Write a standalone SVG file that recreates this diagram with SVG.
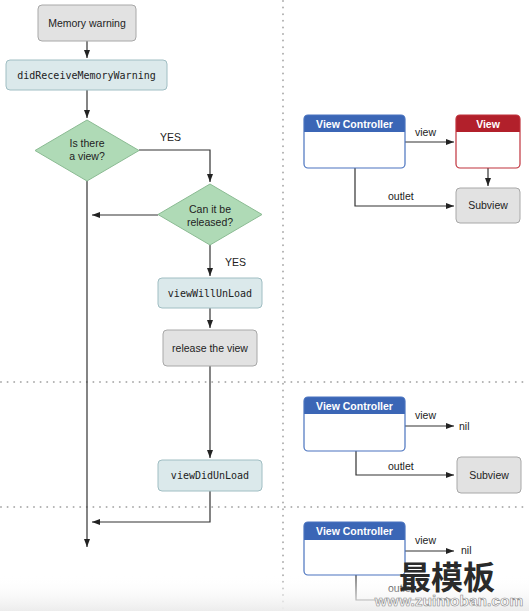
<svg xmlns="http://www.w3.org/2000/svg" width="529" height="611" viewBox="0 0 529 611">
<defs>
<marker id="arr" markerUnits="userSpaceOnUse" markerWidth="9" markerHeight="7" refX="8" refY="3" orient="auto">
<path d="M0,0 L8,3 L0,6 z" fill="#222"/>
</marker>
<linearGradient id="fade" x1="0" y1="0" x2="0" y2="1">
<stop offset="0" stop-color="#ffffff" stop-opacity="0"/>
<stop offset="1" stop-color="#ececec" stop-opacity="1"/>
</linearGradient>
<style>
.t{font-family:"Liberation Sans",Arial,sans-serif;font-size:10.5px;fill:#222;text-anchor:middle}
.tl{font-family:"Liberation Sans",Arial,sans-serif;font-size:10.5px;fill:#222}
.m{font-family:"DejaVu Sans Mono","Liberation Mono",monospace;font-size:10px;fill:#222;text-anchor:middle}
.h{font-family:"Liberation Sans",Arial,sans-serif;font-size:10.5px;font-weight:bold;fill:#fff;text-anchor:middle}
.grey{fill:#e2e2e2;stroke:#a8a8a8;stroke-width:1}
.blue{fill:#dbe9eb;stroke:#a0bec3;stroke-width:1}
.dia{fill:#afdab6;stroke:#8bbb93;stroke-width:1}
.ln{fill:none;stroke:#333;stroke-width:1.2}
.dot{stroke:#b0b0b0;stroke-width:2;stroke-dasharray:0 6.6;stroke-linecap:round;fill:none}
</style>
</defs>
<rect width="529" height="611" fill="#fff"/>
<g id="separators">
<line class="dot" x1="283" y1="1" x2="283" y2="611"/>
<line class="dot" x1="1" y1="382" x2="529" y2="382"/>
<line class="dot" x1="1" y1="507" x2="529" y2="507"/>
</g>
<g id="connectors">
<line class="ln" x1="87" y1="41" x2="87" y2="58" marker-end="url(#arr)"/>
<line class="ln" x1="87" y1="90" x2="87" y2="118" marker-end="url(#arr)"/>
<polyline class="ln" points="139,150 210,150 210,182" marker-end="url(#arr)"/>
<line class="ln" x1="87" y1="181" x2="87" y2="547" marker-end="url(#arr)"/>
<line class="ln" x1="158" y1="215" x2="92" y2="215" marker-end="url(#arr)"/>
<line class="ln" x1="210" y1="245" x2="210" y2="276" marker-end="url(#arr)"/>
<line class="ln" x1="210" y1="308" x2="210" y2="328" marker-end="url(#arr)"/>
<line class="ln" x1="210" y1="366" x2="210" y2="458" marker-end="url(#arr)"/>
<polyline class="ln" points="210,491 210,522 92,522" marker-end="url(#arr)"/>
<line class="ln" x1="405" y1="142" x2="454" y2="142" marker-end="url(#arr)"/>
<line class="ln" x1="488" y1="168" x2="488" y2="186" marker-end="url(#arr)"/>
<polyline class="ln" points="355,168 355,206 454,206" marker-end="url(#arr)"/>
<line class="ln" x1="405" y1="426" x2="454" y2="426" marker-end="url(#arr)"/>
<polyline class="ln" points="356,451 356,475 454,475" marker-end="url(#arr)"/>
<line class="ln" x1="405" y1="551" x2="454" y2="551" marker-end="url(#arr)"/>
<polyline class="ln" points="356,575 356,600 454,600" marker-end="url(#arr)"/>
<text class="tl" x="160" y="141">YES</text>
<text class="tl" x="225" y="266">YES</text>
<text class="tl" x="415" y="136">view</text>
<text class="tl" x="388" y="200">outlet</text>
<text class="tl" x="415" y="419">view</text>
<text class="tl" x="388" y="470">outlet</text>
<text class="tl" x="415" y="544">view</text>
<text class="tl" x="388" y="592">outlet</text>
</g>
<g id="memory-warning">
<rect class="grey" x="38" y="5" width="98" height="36" rx="4"/>
<text class="t" x="87" y="26.5">Memory warning</text>
</g>
<g id="did-receive">
<rect class="blue" x="6" y="60" width="161" height="30" rx="4"/>
<text class="m" x="86.5" y="79">didReceiveMemoryWarning</text>
</g>
<g id="is-there-view">
<polygon class="dia" points="87,120 139,150.5 87,181 35,150.5"/>
<text class="t" x="87" y="147">Is there</text>
<text class="t" x="87" y="160">a view?</text>
</g>
<g id="can-release">
<polygon class="dia" points="210,184 262,214.5 210,245 158,214.5"/>
<text class="t" x="210" y="213">Can it be</text>
<text class="t" x="210" y="226">released?</text>
</g>
<g id="view-will-unload">
<rect class="blue" x="158" y="278" width="104" height="30" rx="4"/>
<text class="m" x="210" y="296.5">viewWillUnLoad</text>
</g>
<g id="release-view">
<rect class="grey" x="163" y="330" width="94" height="36" rx="4"/>
<text class="t" x="210" y="351.5">release the view</text>
</g>
<g id="view-did-unload">
<rect class="blue" x="158" y="460" width="104" height="31" rx="4"/>
<text class="m" x="210" y="479">viewDidUnLoad</text>
</g>
<g id="vc1">
<path d="M308,115 H401 a4,4 0 0 1 4,4 V132 H304 V119 a4,4 0 0 1 4,-4 z" fill="#3b66b6"/>
<rect x="304" y="115" width="101" height="53" rx="4" fill="none" stroke="#4a73bf" stroke-width="1.2"/>
<text class="h" x="354.5" y="127.5">View Controller</text>
</g>
<g id="view1">
<path d="M460,115 H516 a4,4 0 0 1 4,4 V132 H456 V119 a4,4 0 0 1 4,-4 z" fill="#b2202b"/>
<rect x="456" y="115" width="64" height="53" rx="4" fill="none" stroke="#c0323c" stroke-width="1.2"/>
<text class="h" x="488" y="127.5">View</text>
</g>
<g id="subview1">
<rect class="grey" x="456" y="188" width="64" height="35" rx="4"/>
<text class="t" x="488" y="209">Subview</text>
</g>
<g id="vc2">
<path d="M308,397 H401 a4,4 0 0 1 4,4 V414 H304 V401 a4,4 0 0 1 4,-4 z" fill="#3b66b6"/>
<rect x="304" y="397" width="101" height="54" rx="4" fill="none" stroke="#4a73bf" stroke-width="1.2"/>
<text class="h" x="354.5" y="409.5">View Controller</text>
</g>
<g id="nil2">
<text class="tl" x="459" y="430">nil</text>
</g>
<g id="subview2">
<rect class="grey" x="457" y="457" width="64" height="36" rx="4"/>
<text class="t" x="489" y="479">Subview</text>
</g>
<g id="vc3">
<path d="M308,522 H401 a4,4 0 0 1 4,4 V540 H304 V526 a4,4 0 0 1 4,-4 z" fill="#3b66b6"/>
<rect x="304" y="522" width="101" height="53" rx="4" fill="none" stroke="#4a73bf" stroke-width="1.2"/>
<text class="h" x="354.5" y="535">View Controller</text>
</g>
<g id="nil3">
<text class="tl" x="461" y="554">nil</text>
</g>
<rect x="0" y="575" width="529" height="36" fill="url(#fade)"/>
<g id="watermark">
<text x="447" y="589" font-family="'Noto Sans CJK SC',sans-serif" font-size="32" font-weight="bold" fill="#2a2a2a" text-anchor="middle">最模板</text>
<text x="449" y="606" font-family="'Liberation Sans',Arial,sans-serif" font-size="15.5" font-weight="bold" fill="#fff" stroke="#8a8a8a" stroke-width="0.6" text-anchor="middle">www.zuimoban.com</text>
</g>
</svg>
